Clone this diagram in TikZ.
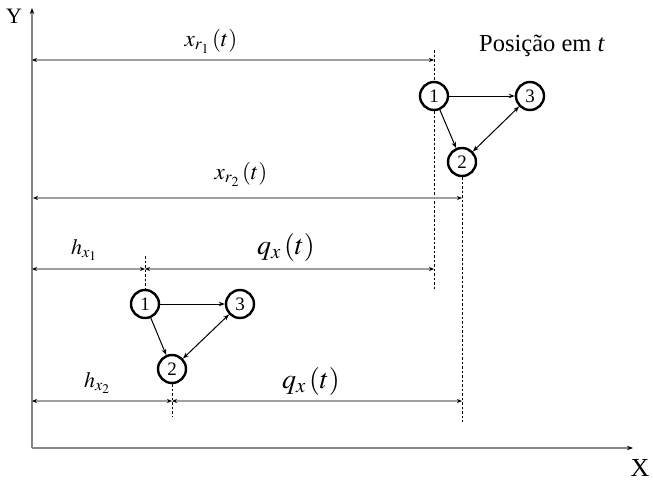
\documentclass[tikz,border=0pt]{standalone}
\usepackage{mathptmx}
\usepackage{fontspec}
\setmainfont{Liberation Serif}
\usepackage{tikz}
\usetikzlibrary{positioning, arrows.meta}
\definecolor{AxisGray}{RGB}{135, 135, 135}
\definecolor{DimGray}{RGB}{160, 160, 160}

\begin{document}
\begin{tikzpicture}[x=1pt, y=-1pt,
    vert/.style={circle, draw=black, line width=2.4pt, fill=white, inner sep=0pt,
                 minimum size=28pt, font=\fontsize{19}{19}\selectfont},
    link/.style={-{Stealth[length=6pt, width=4.5pt]}, black, line width=1pt},
    dim/.style={{Stealth[length=5pt, width=4pt, black]}-{Stealth[length=5pt, width=4pt, black]}, DimGray, line width=1.5pt},
    guide/.style={black, dash pattern=on 2.5pt off 2pt, line width=0.9pt}]
    \useasboundingbox (0,0) rectangle (653,498);

    % Axes
    \coordinate (o) at (32,448);
    \coordinate (ytop) at (32,8);
    \coordinate (xend) at (633,448);
    \draw[-{Stealth[length=6pt, width=4.5pt, black]}, AxisGray, line width=1.5pt] (o) -- (ytop);
    \draw[-{Stealth[length=6pt, width=4.5pt, black]}, AxisGray, line width=1.5pt] (o) -- (xend);
    \node[font=\fontsize{22}{22}\selectfont] (ylab) at (14,16) {Y};
    \node[font=\fontsize{26}{26}\selectfont] (xlab) at (640,468) {X};

    % Graph at time t
    \node[vert] (a1) at (434,96) {1};
    \node[vert] (a3) at (530,96) {3};
    \node[vert] (a2) at (462,162) {2};
    \node[font=\fontsize{24.5}{24.5}\selectfont] (pos) at (542,46) {Posição em \textit{t}};

    % Initial graph
    \node[vert] (b1) at (145,304) {1};
    \node[vert] (b3) at (240,304) {3};
    \node[vert] (b2) at (172,369) {2};

    % Guide lines
    \coordinate (a1top) at (434,50);
    \coordinate (a1bot) at (434,290);
    \coordinate (a2bot) at (462,422);
    \coordinate (b1top) at (145,256);
    \coordinate (b2bot) at (172,416);
    \draw[guide] (a1top) -- (a1.north);
    \draw[guide] (a1.south) -- (a1bot);
    \draw[guide] (a2.south) -- (a2bot);
    \draw[guide] (b1top) -- (b1.north);
    \draw[guide] (b2.south) -- (b2bot);

    % Edges
    \draw[link] (a1) -- (a3);
    \draw[link] (a1) -- (a2);
    \draw[link, {Stealth[length=6pt, width=4.5pt]}-{Stealth[length=6pt, width=4.5pt]}] (a2) -- (a3);
    \draw[link] (b1) -- (b3);
    \draw[link] (b1) -- (b2);
    \draw[link, {Stealth[length=6pt, width=4.5pt]}-{Stealth[length=6pt, width=4.5pt]}] (b2) -- (b3);

    % Dimensions
    \coordinate (r1s) at (32,60);   \coordinate (r1e) at (434,60);
    \coordinate (r2s) at (33,198);  \coordinate (r2e) at (462,198);
    \coordinate (h1s) at (32,269);  \coordinate (h1m) at (145,269);  \coordinate (h1e) at (434,269);
    \coordinate (h2s) at (32,401);  \coordinate (h2m) at (172,401);  \coordinate (h2e) at (462,401);
    \draw[dim] (r1s) -- (r1e);
    \draw[dim] (r2s) -- (r2e);
    \draw[dim] (h1s) -- (h1m);
    \draw[dim] (h1m) -- (h1e);
    \draw[dim] (h2s) -- (h2m);
    \draw[dim] (h2m) -- (h2e);

    % Labels
    \node[font=\fontsize{23}{23}\selectfont] (lr1) at (211,41) {$x_{r_1}\,(t)$};
    \node[font=\fontsize{23}{23}\selectfont] (lr2) at (241,174) {$x_{r_2}\,(t)$};
    \node[font=\fontsize{22}{22}\selectfont] (lh1) at (84,250) {$h_{x_1}$};
    \node[font=\fontsize{28}{28}\selectfont] (lq1) at (286,247) {$q_x\,(t)$};
    \node[font=\fontsize{22}{22}\selectfont] (lh2) at (97,383) {$h_{x_2}$};
    \node[font=\fontsize{28}{28}\selectfont] (lq2) at (311,381) {$q_x\,(t)$};
\end{tikzpicture}
\end{document}
